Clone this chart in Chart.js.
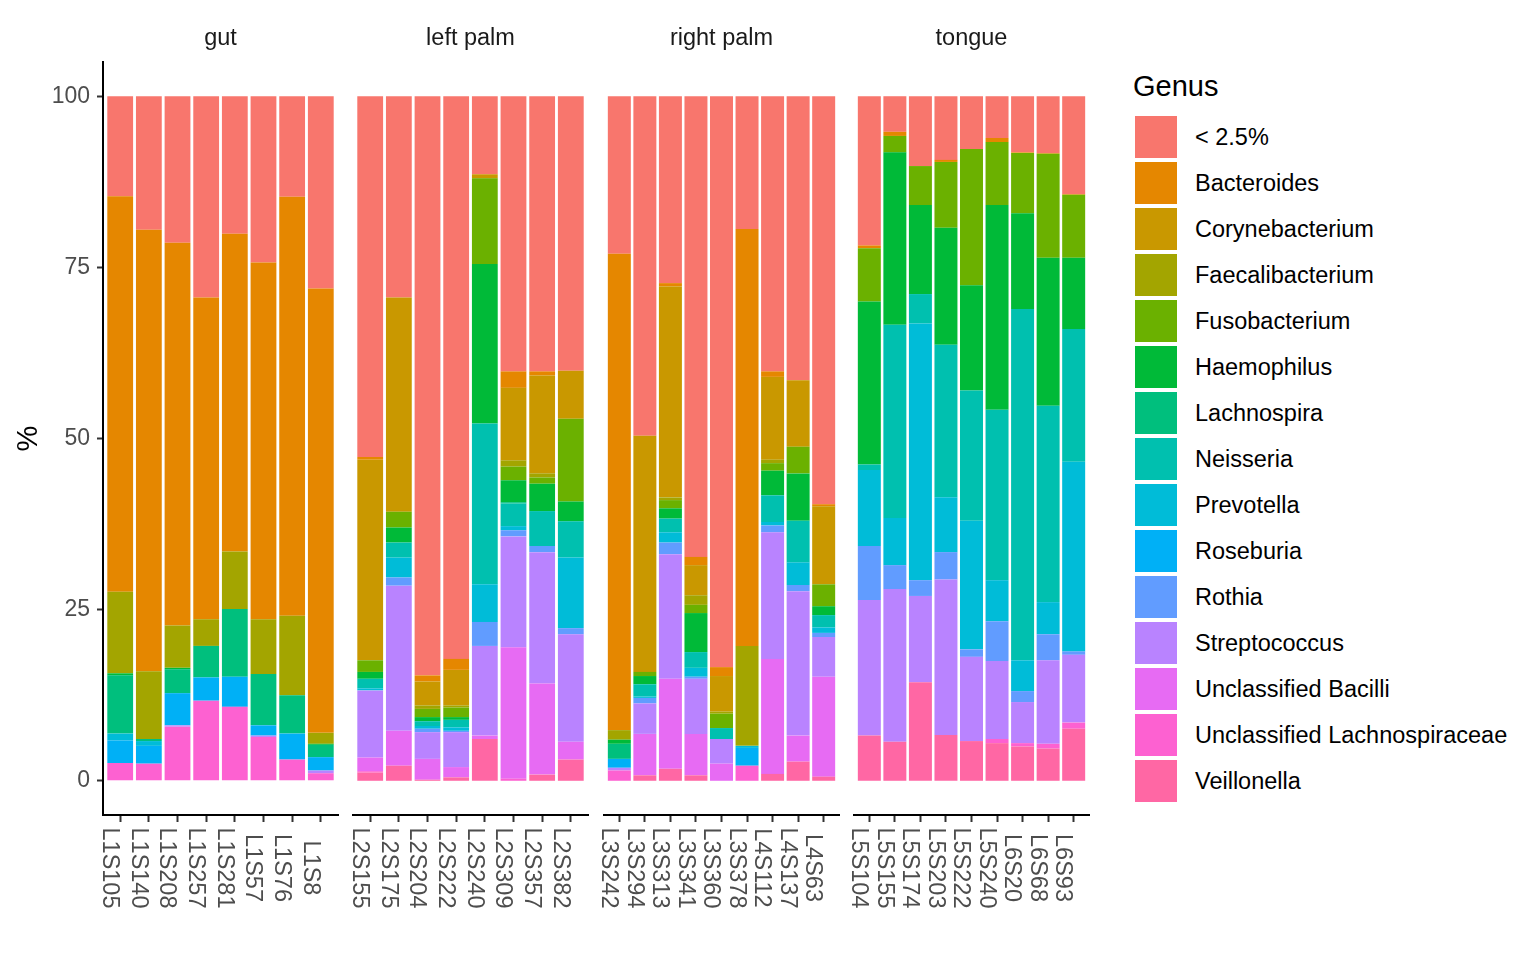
<!DOCTYPE html>
<html>
<head>
<meta charset="utf-8">
<script src="https://cdn.jsdelivr.net/npm/chart.js@4.4.1/dist/chart.umd.min.js"></script>
<style>
    html, body { margin: 0; padding: 0; background: #fff; }
    body {
        width: 1536px; height: 960px; position: relative; overflow: hidden;
        font-family: 'Liberation Sans', Arial, sans-serif;
    }
    canvas { position: absolute; top: 0; }
    #legend { position: absolute; left: 1133px; top: 0; }
    .legend-title {
        position: absolute; left: 0; top: 68px; font-size: 29px; line-height: 36px;
        color: #000; white-space: nowrap;
    }
    .legend-key { position: absolute; left: 2px; width: 42px; height: 42px; }
    .legend-label {
        position: absolute; left: 62px; font-size: 23.5px; line-height: 42px;
        color: #000; white-space: nowrap;
    }
</style>
</head>
<body>
<div id="legend"></div>
<script>
// Facets and the samples shown in each
const facetNames = ['gut', 'left palm', 'right palm', 'tongue'];
const gutSamples = ['L1S105', 'L1S140', 'L1S208', 'L1S257', 'L1S281', 'L1S57', 'L1S76', 'L1S8'];
const leftPalmSamples = ['L2S155', 'L2S175', 'L2S204', 'L2S222', 'L2S240', 'L2S309', 'L2S357', 'L2S382'];
const rightPalmSamples = ['L3S242', 'L3S294', 'L3S313', 'L3S341', 'L3S360', 'L3S378', 'L4S112', 'L4S137', 'L4S63'];
const tongueSamples = ['L5S104', 'L5S155', 'L5S174', 'L5S203', 'L5S222', 'L5S240', 'L6S20', 'L6S68', 'L6S93'];

const genusNames = [
    '< 2.5%', 'Bacteroides', 'Corynebacterium', 'Faecalibacterium', 'Fusobacterium',
    'Haemophilus', 'Lachnospira', 'Neisseria', 'Prevotella', 'Roseburia', 'Rothia',
    'Streptococcus', 'Unclassified Bacilli', 'Unclassified Lachnospiraceae', 'Veillonella'
];

// Relative abundance (%) per genus; samples in order gut | left palm | right palm | tongue
const lessThan25 = [
    14.6, 19.5, 21.4, 29.4, 20.1, 24.3, 14.7, 28.1,
    52.7, 29.4, 84.6, 82.2, 11.4, 40.2, 40.2, 40.1,
    23.0, 49.6, 27.3, 67.3, 83.4, 19.4, 40.2, 41.5, 59.6,
    21.8, 5.2, 10.2, 9.3, 7.7, 6.1, 8.2, 8.3, 14.3
];
const bacteroides = [
    57.8, 64.5, 55.9, 47.0, 46.4, 52.1, 61.2, 64.9,
    0.4, 0, 0.9, 1.6, 0, 2.4, 0.6, 0,
    69.6, 0, 0.5, 1.2, 1.3, 60.9, 0.8, 0, 0.3,
    0.4, 0.6, 0, 0.3, 0, 0.6, 0.1, 0.1, 0.1
];
const corynebacterium = [
    0, 0, 0, 0, 0, 0, 0, 0,
    29.3, 31.3, 3.5, 5.2, 0.6, 10.6, 14.3, 7.0,
    0, 34.5, 30.8, 4.4, 5.2, 0, 12.1, 9.7, 11.4,
    0, 0, 0, 0, 0, 0, 0, 0, 0
];
const faecalibacterium = [
    11.9, 9.9, 6.2, 3.9, 8.4, 8.0, 11.6, 1.6,
    0, 0, 0.5, 0.3, 0, 0.9, 0.6, 0,
    1.4, 0, 0.4, 1.4, 0.3, 14.6, 0.5, 0, 0,
    0, 0, 0, 0, 0, 0, 0, 0, 0
];
const fusobacterium = [
    0, 0, 0, 0, 0, 0, 0, 0,
    1.7, 2.3, 1.2, 1.4, 12.5, 2.0, 0.9, 12.1,
    0, 0.6, 1.2, 1.2, 2.1, 0, 1.1, 3.9, 3.2,
    7.8, 2.4, 5.7, 9.6, 19.9, 9.2, 8.8, 15.2, 9.2
];
const haemophilus = [
    0.3, 0, 0.2, 0, 0, 0, 0, 0.15,
    1.0, 2.2, 0.6, 0.4, 23.3, 3.2, 4.0, 2.9,
    0.6, 1.2, 1.5, 5.7, 0, 0, 3.6, 6.9, 1.3,
    23.8, 25.2, 13.0, 17.1, 15.4, 29.9, 14.0, 21.6, 10.4
];
const lachnospira = [
    8.5, 0.3, 3.5, 4.6, 9.9, 7.5, 5.6, 1.8,
    0, 0, 0, 0, 0, 0.2, 0, 0,
    2.2, 0, 0, 0, 0, 0, 0, 0, 0,
    0, 0, 0, 0, 0, 0, 0, 0, 0
];
const neisseria = [
    0, 0, 0, 0, 0, 0, 0, 0,
    1.4, 2.2, 0.7, 1.1, 23.5, 3.3, 5.1, 5.3,
    0, 1.8, 2.0, 2.3, 1.6, 0, 3.9, 6.1, 1.8,
    0.8, 28.2, 4.3, 22.3, 19.0, 24.9, 51.3, 28.7, 19.4
];
const prevotella = [
    1.0, 0.7, 0, 0, 0, 0, 0, 0,
    0.3, 2.9, 0.4, 0.5, 5.5, 0.6, 0, 10.3,
    0, 0.2, 1.5, 1.3, 0, 0.3, 0.5, 3.3, 0.8,
    11.1, 6.9, 37.5, 8.0, 18.8, 6.0, 4.5, 4.7, 27.7
];
const roseburia = [
    3.3, 2.6, 4.7, 3.4, 4.4, 1.5, 3.8, 1.95,
    0, 0, 0, 0, 0, 0, 0, 0,
    1.3, 0, 0, 0, 0, 2.6, 0, 0, 0,
    0, 0, 0, 0, 0, 0, 0, 0, 0
];
const rothia = [
    0, 0, 0, 0, 0, 0, 0, 0,
    0, 1.2, 0.5, 0.2, 3.5, 0.9, 0.9, 0.9,
    0, 0.8, 1.7, 0.3, 0, 0, 1.0, 0.9, 0.6,
    7.9, 3.5, 2.3, 4.0, 1.1, 5.8, 1.6, 3.8, 0.5
];
const streptococcus = [
    0, 0, 0.2, 0, 0, 0.2, 0, 0.4,
    9.8, 21.2, 3.9, 5.1, 13.1, 16.2, 19.2, 15.7,
    0.4, 4.45, 18.2, 8.05, 3.6, 0, 18.5, 21.1, 5.8,
    19.8, 22.3, 12.6, 22.7, 12.3, 11.4, 6.0, 12.2, 9.9
];
const unclassifiedBacilli = [
    0, 0, 0, 0, 0, 0, 0, 0,
    2.0, 5.1, 3.05, 1.5, 0.5, 19.2, 13.3, 2.6,
    0, 6.05, 13.15, 6.05, 2.5, 0, 16.8, 3.8, 14.6,
    0, 0, 0, 0, 0, 0, 0, 0, 0
];
const unclassifiedLachnospiraceae = [
    2.6, 2.5, 7.9, 11.7, 10.8, 6.4, 3.1, 1.1,
    0.2, 0, 0, 0, 0, 0.3, 0, 0,
    1.5, 0, 0, 0, 0, 2.2, 0, 0, 0,
    0, 0, 0, 0, 0, 0.6, 0.5, 0.7, 0.9
];
const veillonella = [
    0, 0, 0, 0, 0, 0, 0, 0,
    1.2, 2.2, 0.15, 0.5, 6.1, 0, 0.9, 3.1,
    0, 0.8, 1.75, 0.8, 0, 0, 1.0, 2.8, 0.6,
    6.6, 5.7, 14.4, 6.7, 5.8, 5.5, 5.0, 4.7, 7.6
];

const yTicks = [0, 25, 50, 75, 100];

const facetSamples = [gutSamples, leftPalmSamples, rightPalmSamples, tongueSamples];
const genusValues = [
    lessThan25, bacteroides, corynebacterium, faecalibacterium, fusobacterium,
    haemophilus, lachnospira, neisseria, prevotella, roseburia, rothia,
    streptococcus, unclassifiedBacilli, unclassifiedLachnospiraceae, veillonella
];

// ggplot default hue palette for 15 levels
const genusColors = [
    '#F8766D', '#E58700', '#C99800', '#A3A500', '#6BB100', '#00BA38', '#00BF7D', '#00C0AF',
    '#00BCD8', '#00B0F6', '#619CFF', '#B983FF', '#E76BF3', '#FD61D1', '#FF67A4'
];

// Layout of the four panels
const fontFamily = "'Liberation Sans', Arial, sans-serif";
const panelLeft = [103, 353, 604, 854];
const panelWidth = 235;
const panelTop = 62;
const panelBottom = 815;
const canvasHeight = 960;
const sidePad = 5;

// Facet strip title and rotated sample labels
function facetLabelsPlugin(title, sampleNames) {
    return {
        id: 'facetLabels',
        afterDraw(chart) {
            const { ctx, chartArea } = chart;
            const xScale = chart.scales.x;
            ctx.save();
            ctx.font = `23.5px ${fontFamily}`;
            ctx.fillStyle = '#1A1A1A';
            ctx.textAlign = 'center';
            ctx.textBaseline = 'middle';
            ctx.fillText(title, (chartArea.left + chartArea.right) / 2, chartArea.top - 23);

            ctx.fillStyle = '#4D4D4D';
            ctx.textBaseline = 'top';
            sampleNames.forEach((name, i) => {
                ctx.save();
                ctx.translate(xScale.getPixelForValue(i) + 1, chartArea.bottom + 53);
                ctx.rotate(Math.PI / 2);
                ctx.fillText(name, 0, 0);
                ctx.restore();
            });
            ctx.restore();
        }
    };
}

function createFacetChart(fi, start) {
    const sampleNames = facetSamples[fi];
    const isFirst = fi === 0;
    const left = isFirst ? 0 : panelLeft[fi] - sidePad;
    const width = isFirst ? panelLeft[fi] + panelWidth + sidePad : panelWidth + 2 * sidePad;

    const canvas = document.createElement('canvas');
    canvas.width = width;
    canvas.height = canvasHeight;
    canvas.style.left = left + 'px';
    canvas.style.width = width + 'px';
    canvas.style.height = canvasHeight + 'px';
    document.body.appendChild(canvas);

    // First genus sits on top of each stack, so build the datasets bottom-up
    const datasets = genusNames.map((name, gi) => ({
        label: name,
        data: genusValues[gi]
            .slice(start, start + sampleNames.length)
            .map((v, i) => ({ x: i, y: v > 0 ? v : null })),
        backgroundColor: genusColors[gi],
        borderWidth: 0,
        barPercentage: 0.9,
        categoryPercentage: 1
    })).reverse();

    const yScale = {
        display: isFirst,
        stacked: true,
        min: -5,
        max: 105
    };
    if (isFirst) {
        Object.assign(yScale, {
            afterBuildTicks: axis => {
                axis.ticks = yTicks.map(v => ({ value: v }));
            },
            afterFit: axis => { axis.width = panelLeft[0]; },
            grid: {
                drawOnChartArea: false,
                drawTicks: true,
                tickLength: 6,
                tickColor: '#333333',
                tickWidth: 2
            },
            border: { display: true, color: '#000000', width: 2 },
            ticks: {
                font: { family: fontFamily, size: 23 },
                color: '#4D4D4D',
                padding: 7
            },
            title: {
                display: true,
                text: '%',
                font: { family: fontFamily, size: 29 },
                color: '#000000',
                padding: { top: 12, bottom: 0 }
            }
        });
    }

    return new Chart(canvas, {
        type: 'bar',
        data: { datasets },
        plugins: [facetLabelsPlugin(facetNames[fi], sampleNames)],
        options: {
            responsive: false,
            animation: false,
            devicePixelRatio: 1,
            layout: {
                padding: { left: isFirst ? 0 : sidePad, right: sidePad, top: panelTop, bottom: 0 }
            },
            plugins: {
                legend: { display: false },
                tooltip: { enabled: false }
            },
            scales: {
                x: {
                    type: 'linear',
                    stacked: true,
                    offset: false,
                    min: -0.6,
                    max: sampleNames.length - 0.4,
                    afterBuildTicks: axis => {
                        axis.ticks = sampleNames.map((_, i) => ({ value: i }));
                    },
                    afterFit: axis => { axis.height = canvasHeight - panelBottom; },
                    grid: {
                        offset: false,
                        drawOnChartArea: false,
                        drawTicks: true,
                        tickLength: 7,
                        tickColor: '#333333',
                        tickWidth: 2
                    },
                    border: { display: true, color: '#000000', width: 2 },
                    ticks: { display: false }
                },
                y: yScale
            }
        }
    });
}

// Build the four facets
let offset = 0;
const charts = facetSamples.map((samples, fi) => {
    const chart = createFacetChart(fi, offset);
    offset += samples.length;
    return chart;
});

// Legend
const legend = document.getElementById('legend');
legend.innerHTML = '<div class="legend-title">Genus</div>' + genusNames.map((name, i) => {
    const top = 116 + i * 46;
    const text = name.replace('<', '&lt;');
    return `<div class="legend-key" style="top:${top}px;background:${genusColors[i]}"></div>` +
        `<div class="legend-label" style="top:${top}px">${text}</div>`;
}).join('');
</script>
</body>
</html>
